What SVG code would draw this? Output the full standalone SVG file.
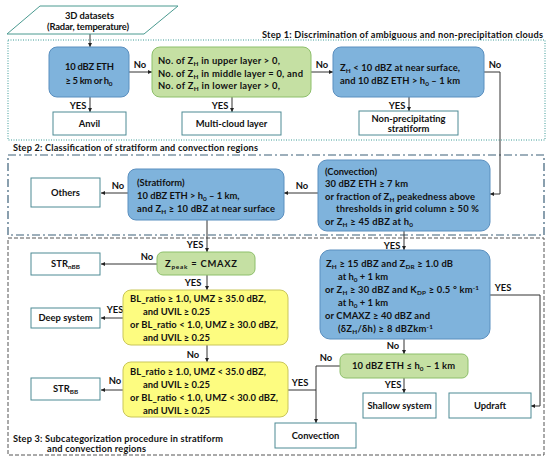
<svg xmlns="http://www.w3.org/2000/svg" width="550" height="461" viewBox="0 0 550 461">
<defs>
<style>
text{font-family:Lato,"Noto Sans","Liberation Sans",sans-serif;font-weight:bold;font-size:9.4px;fill:#111}
.m{text-anchor:middle}
.st{font-size:9.2px}
.sb{font-size:6.4px}
.blue{fill:#7fb3dc;stroke:#5a8fbf;stroke-width:1}
.green{fill:#c5e0a3;stroke:#8dbf6a;stroke-width:1}
.yellow{fill:#fdfc80;stroke:#c9c65a;stroke-width:1}
.white{fill:#fff;stroke:#4d8a94;stroke-width:1}
.c{fill:none;stroke:#333;stroke-width:1}
</style>
<marker id="ah" viewBox="0 0 6 6" refX="6" refY="3" markerWidth="4" markerHeight="4" orient="auto">
<path d="M0,0 L6,3 L0,6 z" fill="#222"/>
</marker>
</defs>
<rect width="550" height="461" fill="#fff"/>

<!-- step frames -->
<g id="step1">
<rect x="8" y="40" width="537" height="100" fill="none" stroke="#3b9a96" stroke-width="1" stroke-dasharray="1,1.5"/>
<text class="st" x="262" y="38" textLength="281" lengthAdjust="spacing">Step 1: Discrimination of ambiguous and non-precipitation clouds</text>
</g>
<g id="step2">
<rect x="8" y="155" width="536" height="80" fill="none" stroke="#3d6079" stroke-width="1.2" stroke-dasharray="8,3,2,3"/>
<text class="st" x="13" y="151" textLength="245" lengthAdjust="spacing">Step 2: Classification of stratiform and convection regions</text>
</g>
<g id="step3">
<rect x="8" y="238" width="536" height="217" fill="none" stroke="#555" stroke-width="1" stroke-dasharray="4,2"/>
<text class="st" x="13" y="442" textLength="210" lengthAdjust="spacing">Step 3: Subcategorization procedure in stratiform</text>
<text class="st" x="47" y="452" textLength="99" lengthAdjust="spacing">and convection regions</text>
</g>

<!-- connectors -->
<g id="connectors">
<path class="c" d="M90,34 V47" marker-end="url(#ah)"/>
<path class="c" d="M90,97 V112" marker-end="url(#ah)"/>
<path class="c" d="M129,72 H152" marker-end="url(#ah)"/>
<path class="c" d="M232,97 V112" marker-end="url(#ah)"/>
<path class="c" d="M311,72 H333" marker-end="url(#ah)"/>
<path class="c" d="M409,97 V111" marker-end="url(#ah)"/>
<path class="c" d="M484,72 H500 V194 H490" marker-end="url(#ah)"/>
<path class="c" d="M318,193 H284" marker-end="url(#ah)"/>
<path class="c" d="M128,193 H101" marker-end="url(#ah)"/>
<path class="c" d="M207,220 V252" marker-end="url(#ah)"/>
<path class="c" d="M404,231 V250" marker-end="url(#ah)"/>
<path class="c" d="M157,264 H101" marker-end="url(#ah)"/>
<path class="c" d="M207,275 V290" marker-end="url(#ah)"/>
<path class="c" d="M123,318 H101" marker-end="url(#ah)"/>
<path class="c" d="M207,345 V362" marker-end="url(#ah)"/>
<path class="c" d="M123,390 H101" marker-end="url(#ah)"/>
<path class="c" d="M490,295 H540 V406 H531" marker-end="url(#ah)"/>
<path class="c" d="M404,339 V354" marker-end="url(#ah)"/>
<path class="c" d="M404,378 V393" marker-end="url(#ah)"/>
<path class="c" d="M340,366 H316 V423" marker-end="url(#ah)"/>
<path class="c" d="M288,390 H316"/>
<text class="m" x="78" y="109">YES</text>
<text class="m" x="140" y="68">No</text>
<text class="m" x="220" y="109">YES</text>
<text class="m" x="322" y="68">No</text>
<text class="m" x="397" y="109">YES</text>
<text class="m" x="495" y="68">No</text>
<text class="m" x="302" y="189">No</text>
<text class="m" x="118" y="189">No</text>
<text class="m" x="195" y="248">YES</text>
<text class="m" x="392" y="249">YES</text>
<text class="m" x="147" y="260">No</text>
<text class="m" x="193" y="286">YES</text>
<text class="m" x="115" y="313">YES</text>
<text class="m" x="193" y="358">No</text>
<text class="m" x="115" y="384">No</text>
<text class="m" x="503" y="291">YES</text>
<text class="m" x="393" y="349">No</text>
<text class="m" x="393" y="388">YES</text>
<text class="m" x="326" y="361">No</text>
<text class="m" x="300" y="386">YES</text>
</g>

<!-- nodes -->
<g id="datasets">
<polygon points="40,6 178,6 144,34 7,34" fill="#fff" stroke="#4a9a90" stroke-width="1"/>
<text class="m" x="89.5" y="19" textLength="49" lengthAdjust="spacing">3D datasets</text>
<text class="m" x="88" y="30" textLength="82" lengthAdjust="spacing">(Radar, temperature)</text>
</g>
<g id="eth5">
<rect class="blue" x="49" y="47" width="80" height="50" rx="8"/>
<text class="m" x="89.5" y="70" textLength="49" lengthAdjust="spacing">10 dBZ ETH</text>
<text class="m" x="89" y="84" textLength="47" lengthAdjust="spacing">≥ 5 km or h<tspan class="sb" dy="2">0</tspan></text>
</g>
<g id="anvil">
<rect class="white" x="53" y="112" width="73" height="23"/>
<text class="m" x="89.5" y="127">Anvil</text>
</g>
<g id="layers">
<rect class="green" x="152" y="47" width="159" height="50" rx="8"/>
<text x="158" y="64" textLength="122" lengthAdjust="spacing">No. of Z<tspan class="sb" dy="2">H</tspan><tspan dy="-2"> in upper layer &gt; 0,</tspan></text>
<text x="158" y="76.5" textLength="145" lengthAdjust="spacing">No. of Z<tspan class="sb" dy="2">H</tspan><tspan dy="-2"> in middle layer = 0, and</tspan></text>
<text x="158" y="89" textLength="122" lengthAdjust="spacing">No. of Z<tspan class="sb" dy="2">H</tspan><tspan dy="-2"> in lower layer &gt; 0,</tspan></text>
</g>
<g id="multicloud">
<rect class="white" x="182" y="112" width="99" height="23"/>
<text class="m" x="231.5" y="127">Multi-cloud layer</text>
</g>
<g id="nearsurface">
<rect class="blue" x="333" y="47" width="151" height="50" rx="8"/>
<text x="340" y="70.5" textLength="120" lengthAdjust="spacing">Z<tspan class="sb" dy="2">H</tspan><tspan dy="-2"> &lt; 10 dBZ at near surface,</tspan></text>
<text x="340" y="83.5" textLength="120" lengthAdjust="spacing">and 10 dBZ ETH &gt; h<tspan class="sb" dy="2">0</tspan><tspan dy="-2"> – 1 km</tspan></text>
</g>
<g id="nonprecip">
<rect class="white" x="359" y="111" width="99" height="24"/>
<text class="m" x="408.5" y="122">Non-precipitating</text>
<text class="m" x="408.5" y="132">stratiform</text>
</g>
<g id="convection2">
<rect class="blue" x="318" y="160" width="172" height="71" rx="9"/>
<text x="325" y="174.5" textLength="52" lengthAdjust="spacing">(Convection)</text>
<text x="325" y="187" textLength="83" lengthAdjust="spacing">30 dBZ ETH ≥ 7 km</text>
<text x="325" y="200" textLength="150" lengthAdjust="spacing">or fraction of Z<tspan class="sb" dy="2">H</tspan><tspan dy="-2"> peakedness above</tspan></text>
<text x="336" y="212" textLength="143" lengthAdjust="spacing">thresholds in grid column ≥ 50 %</text>
<text x="325" y="225" textLength="88" lengthAdjust="spacing">or Z<tspan class="sb" dy="2">H</tspan><tspan dy="-2"> ≥ 45 dBZ at h</tspan><tspan class="sb" dy="2">0</tspan></text>
</g>
<g id="stratiform">
<rect class="blue" x="128" y="169" width="156" height="51" rx="8"/>
<text x="137" y="186">(Stratiform)</text>
<text x="137" y="199">10 dBZ ETH &gt; h<tspan class="sb" dy="2">0</tspan><tspan dy="-2"> – 1 km,</tspan></text>
<text x="137" y="212" textLength="138" lengthAdjust="spacing">and Z<tspan class="sb" dy="2">H</tspan><tspan dy="-2"> ≥ 10 dBZ at near surface</tspan></text>
</g>
<g id="others">
<rect class="white" x="31" y="178" width="69" height="29"/>
<text class="m" x="65.5" y="196">Others</text>
</g>
<g id="zpeak">
<rect class="green" x="157" y="252" width="98" height="23" rx="6"/>
<text class="m" x="201" y="267" textLength="72" lengthAdjust="spacing">Z<tspan class="sb" dy="2">peak</tspan><tspan dy="-2"> = CMAXZ</tspan></text>
</g>
<g id="strnbb">
<rect class="white" x="31" y="253" width="69" height="22"/>
<text class="m" x="65.5" y="267">STR<tspan class="sb" dy="2">nBB</tspan></text>
</g>
<g id="deepcond">
<rect class="yellow" x="123" y="290" width="165" height="55" rx="8"/>
<text x="130" y="302" textLength="136" lengthAdjust="spacing">BL_ratio ≥ 1.0, UMZ ≥ 35.0 dBZ,</text>
<text x="143" y="315" textLength="67" lengthAdjust="spacing">and UVIL ≥ 0.25</text>
<text x="130" y="328" textLength="148" lengthAdjust="spacing">or BL_ratio &lt; 1.0, UMZ ≥ 30.0 dBZ,</text>
<text x="143" y="341" textLength="67" lengthAdjust="spacing">and UVIL ≥ 0.25</text>
</g>
<g id="deep">
<rect class="white" x="31" y="308" width="69" height="20"/>
<text class="m" x="65.5" y="321">Deep system</text>
</g>
<g id="bbcond">
<rect class="yellow" x="123" y="362" width="165" height="55" rx="8"/>
<text x="130" y="375" textLength="136" lengthAdjust="spacing">BL_ratio ≥ 1.0, UMZ &lt; 35.0 dBZ,</text>
<text x="143" y="388" textLength="67" lengthAdjust="spacing">and UVIL ≥ 0.25</text>
<text x="130" y="401" textLength="148" lengthAdjust="spacing">or BL_ratio &lt; 1.0, UMZ &lt; 30.0 dBZ,</text>
<text x="143" y="414" textLength="67" lengthAdjust="spacing">and UVIL ≥ 0.25</text>
</g>
<g id="strbb">
<rect class="white" x="31" y="378" width="69" height="22"/>
<text class="m" x="65.5" y="392">STR<tspan class="sb" dy="2">BB</tspan></text>
</g>
<g id="updraftcond">
<rect class="blue" x="320" y="250" width="170" height="89" rx="10"/>
<text x="326" y="267" textLength="127" lengthAdjust="spacing">Z<tspan class="sb" dy="2">H</tspan><tspan dy="-2"> ≥ 15 dBZ and Z</tspan><tspan class="sb" dy="2">DR</tspan><tspan dy="-2"> ≥ 1.0 dB</tspan></text>
<text x="338" y="280">at h<tspan class="sb" dy="2">0</tspan><tspan dy="-2"> + 1 km</tspan></text>
<text x="325" y="293" textLength="154" lengthAdjust="spacing">or Z<tspan class="sb" dy="2">H</tspan><tspan dy="-2"> ≥ 30 dBZ and K</tspan><tspan class="sb" dy="2">DP</tspan><tspan dy="-2"> ≥ 0.5 ° km</tspan><tspan class="sb" dy="-3">-1</tspan></text>
<text x="338" y="306">at h<tspan class="sb" dy="2">0</tspan><tspan dy="-2"> + 1 km</tspan></text>
<text x="325" y="319" textLength="105" lengthAdjust="spacing">or CMAXZ ≥ 40 dBZ and</text>
<text x="338" y="332" textLength="95" lengthAdjust="spacing">(δZ<tspan class="sb" dy="2">H</tspan><tspan dy="-2">/δh) ≥ 8 dBZkm</tspan><tspan class="sb" dy="-3">-1</tspan></text>
</g>
<g id="shallowcond">
<rect class="green" x="340" y="354" width="128" height="24" rx="6"/>
<text class="m" x="403.5" y="369" textLength="103" lengthAdjust="spacing">10 dBZ ETH ≤ h<tspan class="sb" dy="2">0</tspan><tspan dy="-2"> – 1 km</tspan></text>
</g>
<g id="shallow">
<rect class="white" x="363" y="393" width="73" height="25"/>
<text class="m" x="399.5" y="409">Shallow system</text>
</g>
<g id="updraft">
<rect class="white" x="449" y="393" width="82" height="25"/>
<text class="m" x="490" y="409">Updraft</text>
</g>
<g id="convection3">
<rect class="white" x="275" y="423" width="81" height="25"/>
<text class="m" x="315.5" y="439">Convection</text>
</g>
</svg>
